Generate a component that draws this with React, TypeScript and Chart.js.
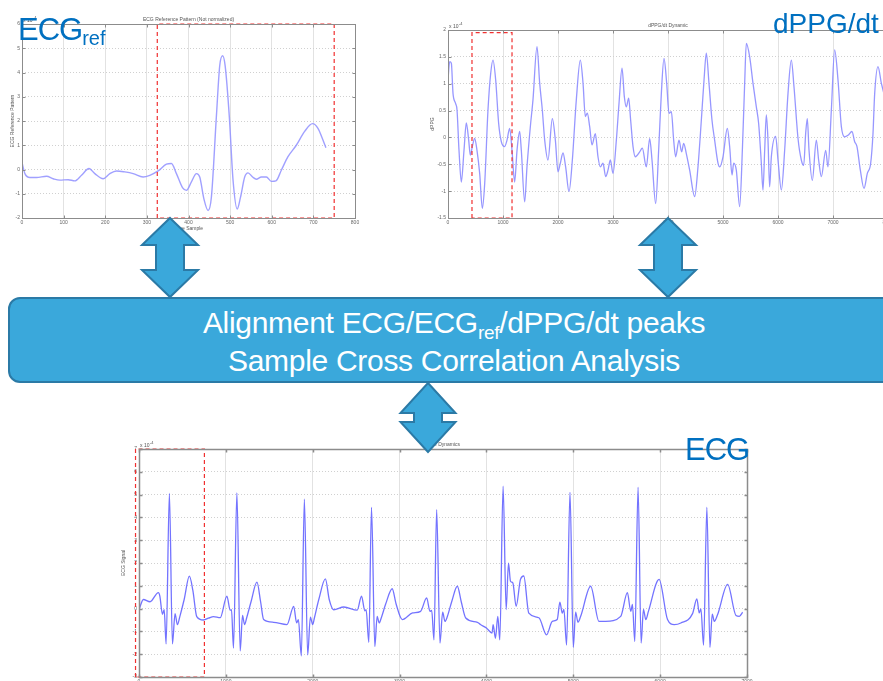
import React, { useEffect, useRef } from "react";
import { Chart, registerables } from "chart.js";
Chart.register(...registerables);

// ---------- DATA ----------
// ECG reference pattern (x: time sample, y: value x1e-4)
const ecgRefSamples: [number, number][] = [
  [0, 0.28], [7, -0.17], [19, -0.33], [35, -0.33], [59, -0.28], [75, -0.38], [91, -0.44], [111, -0.42],
  [127, -0.47], [143, -0.24], [161, 0.04], [175, -0.17], [195, -0.38], [211, -0.17], [227, -0.06],
  [247, -0.1], [267, -0.17], [291, -0.31], [307, -0.24], [327, -0.06], [347, 0.22], [359, 0.25],
  [371, -0.17], [386, -0.76], [395, -0.86], [407, -0.51], [419, -0.17], [427, -0.31], [437, -1.21],
  [447, -1.69], [455, -1.14], [467, 2.19], [475, 4.28], [482, 4.69], [488, 4.28], [498, 2.19],
  [507, -0.44], [517, -1.63], [525, -1.14], [535, -0.31], [543, -0.14], [554, -0.31], [563, -0.4],
  [575, -0.31], [587, -0.31], [599, -0.49], [610, -0.47], [623, -0.03], [639, 0.53], [659, 1.0],
  [679, 1.57], [698, 1.89], [711, 1.7], [723, 1.22], [730, 0.9],
];
const ecgRefWindowX = [325, 750];
const ecgRefWindowY = [-2, 6];
const ecgRefXTicks = { min: 0, max: 800, step: 100 };
const ecgRefYTicks = { min: -2, max: 6, step: 1 };

// dPPG/dt dynamic (x: time, y: value x1e-4)
const dppgSamples: [number, number][] = [
  [0, 1.07], [30, 1.41], [61, 1.38], [91, 0.82], [139, 0.63], [164, 0.51], [200, -0.24], [242, -0.83],
  [291, -0.24], [333, 0.27], [376, -0.05], [406, -0.33], [442, -0.17], [485, -0.02], [527, -0.24],
  [576, -0.67], [624, -1.32], [667, -0.86], [727, 0.51], [776, 1.19], [818, 1.44], [867, 1.07],
  [921, 0.26], [970, -0.08], [1030, -0.17], [1073, -0.05], [1121, 0.17], [1164, -0.24], [1212, -0.83],
  [1255, -0.24], [1303, 0.11], [1333, -0.24], [1394, -1.2], [1436, -0.55], [1497, 0.2], [1545, 0.7],
  [1618, 1.69], [1667, 1.01], [1715, 0.51], [1758, -0.05], [1818, -0.42], [1897, 0.35], [1952, -0.05],
  [2000, -0.64], [2042, -0.48], [2091, -0.29], [2139, -0.55], [2200, -1.01], [2261, -0.42], [2333, 0.7],
  [2406, 1.44], [2455, 1.01], [2497, 0.39], [2533, 0.45], [2576, 0.2], [2618, -0.14], [2679, 0.07],
  [2727, -0.36], [2770, -0.55], [2818, -0.48], [2867, -0.73], [2909, -0.61], [2952, -0.42], [3000, -0.67],
  [3061, -0.05], [3109, 0.63], [3164, 1.29], [3206, 0.76], [3242, 0.57], [3285, 0.73], [3321, 0.32],
  [3364, -0.17], [3406, -0.36], [3485, -0.27], [3533, -0.2], [3606, -0.55], [3667, -0.02], [3709, -0.42],
  [3776, -1.23], [3830, -0.24], [3879, 0.82], [3927, 1.47], [3976, 1.01], [4018, 0.45], [4061, 0.48],
  [4103, -0.05], [4139, -0.36], [4200, -0.05], [4248, -0.27], [4285, -0.11], [4333, -0.3], [4394, -0.61],
  [4485, -1.1], [4545, -0.55], [4606, 0.32], [4655, 1.07], [4697, 1.57], [4745, 1.01], [4800, 0.32],
  [4848, -0.05], [4909, -0.48], [4939, -0.55], [5000, -0.36], [5079, 0.17], [5121, -0.17], [5164, -0.7],
  [5194, -0.48], [5242, -0.61], [5303, -1.29], [5352, -0.24], [5394, 1.01], [5424, 1.75], [5485, 1.5],
  [5545, 1.01], [5606, 0.57], [5648, 0.26], [5697, -0.48], [5727, -0.98], [5758, -0.24], [5788, 0.42],
  [5818, -0.05], [5848, -0.92], [5879, -0.36], [5958, 0.02], [6000, -0.42], [6061, -0.98], [6121, -0.24],
  [6182, 0.82], [6242, 1.44], [6291, 0.94], [6364, -0.02], [6424, -0.42], [6467, -0.52], [6503, 0.07],
  [6533, 0.35], [6564, -0.24], [6624, -0.8], [6697, -0.05], [6739, -0.42], [6788, -0.73], [6867, -0.24],
  [6909, -0.55], [6970, 0.51], [7030, 1.63], [7091, 1.07], [7152, 0.2], [7212, 0.01], [7273, 0.04],
  [7345, 0.11], [7394, -0.08], [7436, -0.17], [7497, -0.61], [7564, -0.95], [7624, -0.67], [7685, -0.48],
  [7727, 0.07], [7758, 0.82], [7818, 1.32], [7879, 1.01], [7930, 0.8],
];
const dppgWindowX = [436, 1164];
const dppgWindowY = [-1.5, 1.95];
const dppgXTicks = { min: 0, max: 8000, step: 1000 };
const dppgYTicks = { min: -1.5, max: 2, step: 0.5 };

// ECG dynamics (x: time, y: value x1e-4)
const ecgSamples: [number, number][] = [
  [0, -0.05], [50, 0.4], [127, 0.3], [223, 0.7], [240, 0.55], [270, -0.25], [290, -0.05], [312, -1.55],
  [350, 5.05], [385, -1.55], [415, -0.22], [442, -0.7], [470, -0.35], [520, 0.4], [580, 1.42], [620, 0.8],
  [665, -0.35], [742, -0.5], [800, -0.42], [858, -0.35], [935, -0.4], [1012, 0.55], [1050, -0.07],
  [1065, -0.05], [1088, -1.73], [1127, 5.07], [1165, -1.85], [1192, -0.3], [1215, -0.7], [1240, -0.4],
  [1290, 0.3], [1358, 1.16], [1400, 0.3], [1435, -0.48], [1550, -0.6], [1704, -0.7], [1781, 0.1],
  [1815, -0.63], [1835, -0.48], [1869, -2.07], [1904, 4.8], [1942, -2.03], [1973, -0.37], [2000, -0.7],
  [2020, -0.4], [2070, 0.4], [2146, 1.3], [2190, 0.4], [2242, -0.05], [2358, 0.07], [2512, -0.07],
  [2562, 0.55], [2600, -0.1], [2615, -0.05], [2646, -1.48], [2677, 4.44], [2715, -1.66], [2742, -0.34],
  [2765, -0.63], [2790, -0.4], [2840, 0.2], [2915, 0.87], [2960, 0.2], [3031, -0.48], [3150, -0.19],
  [3242, -0.12], [3312, 0.47], [3350, -0.12], [3370, -0.08], [3396, -1.37], [3427, 4.34], [3465, -1.51],
  [3496, -0.16], [3523, -0.56], [3550, -0.35], [3600, 0.3], [3665, 0.98], [3710, 0.3], [3762, -0.41],
  [3896, -0.6], [3931, -0.7], [4000, -0.85], [4065, -1.07], [4077, -0.7], [4104, -1.3], [4131, -0.34],
  [4154, -1.37], [4192, 5.37], [4227, -0.04], [4254, 1.99], [4277, 1.2], [4304, 1.13], [4342, 0.1],
  [4392, 1.28], [4430, 1.43], [4488, -0.2], [4604, -0.4], [4692, -1.15], [4758, -0.56], [4815, -0.48],
  [4846, 0.28], [4873, -0.2], [4892, -0.04], [4923, -1.6], [4962, 5.1], [5000, -1.7], [5027, -0.16],
  [5054, -0.6], [5085, -0.34], [5200, 0.98], [5296, -0.56], [5373, -0.56], [5546, -0.34], [5623, 0.7],
  [5662, -0.12], [5681, 0.18], [5708, -1.44], [5746, 5.32], [5781, -1.51], [5808, -0.04], [5835, -0.48],
  [5865, -0.12], [5988, 1.28], [6085, -0.48], [6162, -0.7], [6238, -0.63], [6373, -0.22], [6423, 0.43],
  [6450, -0.19], [6469, -0.01], [6500, -1.6], [6538, 4.44], [6573, -1.7], [6600, -0.24], [6623, -0.56],
  [6662, -0.26], [6777, 1.06], [6873, -0.3], [6912, -0.34], [6950, -0.16],
];
const ecgWindowX = [-40, 753];
const ecgWindowY = [-3, 7];
const ecgXTicks = { min: 0, max: 7000, step: 1000 };
const ecgYTicks = { min: -3, max: 7, step: 1 };

// ---------- CHART HELPERS ----------
const framePlugin = {
  id: "matlabFrame",
  afterDraw(chart: any, _args: any, opts: any) {
    const { ctx, chartArea: a, scales } = chart;
    ctx.save();
    ctx.strokeStyle = "#8c8c8c";
    ctx.lineWidth = opts.frameWidth || 1;
    const l = Math.round(a.left) + 0.5, t = Math.round(a.top) + 0.5;
    const r = Math.round(a.right) + 0.5, b = Math.round(a.bottom) + 0.5;
    ctx.strokeRect(l, t, r - l, b - t);
    ctx.beginPath();
    const tl = 3;
    scales.x.ticks.forEach((tk: any) => {
      const px = Math.round(scales.x.getPixelForValue(tk.value)) + 0.5;
      ctx.moveTo(px, b); ctx.lineTo(px, b - tl);
      ctx.moveTo(px, t); ctx.lineTo(px, t + tl);
    });
    scales.y.ticks.forEach((tk: any) => {
      const py = Math.round(scales.y.getPixelForValue(tk.value)) + 0.5;
      ctx.moveTo(l, py); ctx.lineTo(l + tl, py);
      ctx.moveTo(r, py); ctx.lineTo(r - tl, py);
    });
    ctx.stroke();

    ctx.fillStyle = "#555";
    const cx = (a.left + a.right) / 2;
    ctx.font = "5px Arial, 'Liberation Sans', sans-serif";
    ctx.textAlign = "center";
    ctx.textBaseline = "alphabetic";
    if (opts.title) ctx.fillText(opts.title, opts.titleX ?? cx, a.top - 3);
    if (opts.xLabel) ctx.fillText(opts.xLabel, cx, a.bottom + 12);
    if (opts.yLabel) {
      ctx.save();
      ctx.translate(a.left - opts.yLabelOffset, (a.top + a.bottom) / 2);
      ctx.rotate(-Math.PI / 2);
      ctx.fillText(opts.yLabel, 0, 0);
      ctx.restore();
    }
    // exponent label
    ctx.textAlign = "left";
    ctx.font = "5px Arial, 'Liberation Sans', sans-serif";
    ctx.fillText("x 10", a.left + 1, a.top - 2);
    ctx.font = "4px Arial, 'Liberation Sans', sans-serif";
    ctx.fillText("-4", a.left + 11, a.top - 5);
    ctx.restore();
  },
};

function makeConfig(
  samples: [number, number][],
  winX: number[],
  winY: number[],
  xt: { min: number; max: number; step: number },
  yt: { min: number; max: number; step: number },
  lineColor: string,
  lineWidth: number,
  dims: { yW: number; xH: number; top: number; right: number },
  frameOpts: any
) {
  const box = [
    { x: winX[0], y: winY[0] },
    { x: winX[0], y: winY[1] },
    { x: winX[1], y: winY[1] },
    { x: winX[1], y: winY[0] },
    { x: winX[0], y: winY[0] },
  ];
  const tickFont = { family: "Arial, 'Liberation Sans', sans-serif", size: 5 };
  return {
    type: "scatter" as const,
    data: {
      datasets: [
        {
          data: box,
          showLine: true,
          borderColor: "#f03030",
          borderWidth: 1.2,
          borderDash: [4, 3],
          pointRadius: 0,
          tension: 0,
          clip: false,
        },
        {
          data: samples.map(([x, y]) => ({ x, y })),
          showLine: true,
          borderColor: lineColor,
          borderWidth: lineWidth,
          pointRadius: 0,
          cubicInterpolationMode: "monotone" as const,
        },
      ],
    },
    options: {
      animation: false as const,
      responsive: false,
      events: [],
      layout: { padding: { top: dims.top, right: dims.right, left: 0, bottom: 0 } },
      plugins: {
        legend: { display: false },
        tooltip: { enabled: false },
        title: { display: false },
        matlabFrame: frameOpts,
      },
      scales: {
        x: {
          type: "linear" as const,
          min: xt.min,
          max: xt.max,
          afterFit: (s: any) => { s.height = dims.xH; },
          ticks: {
            stepSize: xt.step,
            font: tickFont,
            color: "#666",
            padding: 2,
            maxRotation: 0,
            autoSkip: false,
            callback: (v: any) => String(v),
          },
          grid: { color: "#e2e2e2", drawTicks: false, lineWidth: 1 },
          border: { display: false },
        },
        y: {
          type: "linear" as const,
          min: yt.min,
          max: yt.max,
          afterFit: (s: any) => { s.width = dims.yW; },
          ticks: {
            stepSize: yt.step,
            font: tickFont,
            color: "#666",
            padding: 2,
            autoSkip: false,
            callback: (v: any) => String(v),
          },
          grid: { color: "#d0d0d0", drawTicks: false, lineWidth: 1 },
          border: { display: false, dash: [1, 2] },
        },
      },
    },
    plugins: [framePlugin],
  };
}

function ChartCanvas(props: { left: number; top: number; width: number; height: number; config: any }) {
  const ref = useRef<HTMLCanvasElement | null>(null);
  useEffect(() => {
    if (!ref.current) return;
    const chart = new Chart(ref.current, props.config);
    return () => chart.destroy();
  }, []);
  return (
    <canvas
      ref={ref}
      width={props.width}
      height={props.height}
      style={{ position: "absolute", left: props.left, top: props.top, width: props.width, height: props.height }}
    />
  );
}

function DoubleArrow(props: { cx: number; t: number; b: number; head: number; shaft: number; headLen: number }) {
  const { cx, t, b, head, shaft, headLen } = props;
  const hw = head / 2, sw = shaft / 2;
  const pts = [
    [cx, t], [cx + hw, t + headLen], [cx + sw, t + headLen], [cx + sw, b - headLen], [cx + hw, b - headLen],
    [cx, b], [cx - hw, b - headLen], [cx - sw, b - headLen], [cx - sw, t + headLen], [cx - hw, t + headLen],
  ].map((p) => p.join(",")).join(" ");
  return <polygon points={pts} fill="#3aa8db" stroke="#2b7aa6" strokeWidth={2} strokeLinejoin="miter" />;
}

const bigLabel: React.CSSProperties = {
  position: "absolute",
  color: "#0070c0",
  fontFamily: "Arial, 'Liberation Sans', sans-serif",
  whiteSpace: "nowrap",
};

export default function App() {
  const refCfg = makeConfig(ecgRefSamples, ecgRefWindowX, ecgRefWindowY, ecgRefXTicks, ecgRefYTicks,
    "rgba(150,150,255,0.9)", 1.4, { yW: 22, xH: 18, top: 24, right: 15 },
    { title: "ECG Reference Pattern (Not normalized)", xLabel: "Time Sample", yLabel: "ECG Reference Pattern", yLabelOffset: 8 });
  const dppgCfg = makeConfig(dppgSamples, dppgWindowX, dppgWindowY, dppgXTicks, dppgYTicks,
    "rgba(140,140,255,0.9)", 1.3, { yW: 28, xH: 18, top: 30, right: 12 },
    { title: "dPPG/dt Dynamic", xLabel: "Time", yLabel: "dPPG", yLabelOffset: 14 });
  const ecgCfg = makeConfig(ecgSamples, ecgWindowX, ecgWindowY, ecgXTicks, ecgYTicks,
    "rgba(90,90,255,0.85)", 1.3, { yW: 39, xH: 15, top: 19, right: 13 },
    { title: "ECG Dynamics", xLabel: "Time", yLabel: "ECG Signal", yLabelOffset: 14, frameWidth: 1.5 });

  return (
    <div style={{ position: "absolute", left: 0, top: 0, width: 883, height: 681, overflow: "hidden", background: "#fff" }}>
      <ChartCanvas left={0} top={0} width={370} height={236} config={refCfg} />
      <ChartCanvas left={420} top={0} width={480} height={236} config={dppgCfg} />
      <ChartCanvas left={100} top={430} width={660} height={262} config={ecgCfg} />

      <div style={{ ...bigLabel, left: 18, top: 14, fontSize: 31, lineHeight: "31px", letterSpacing: -1 }}>
        ECG<span style={{ fontSize: 20, position: "relative", top: 5, letterSpacing: 0 }}>ref</span>
      </div>
      <div style={{ ...bigLabel, left: 773, top: 10, fontSize: 28, lineHeight: "28px" }}>dPPG/dt</div>
      <div style={{ ...bigLabel, left: 685, top: 434, fontSize: 31, lineHeight: "31px", letterSpacing: -1 }}>ECG</div>

      <div style={{
        position: "absolute", left: 8, top: 297, width: 892, height: 86, boxSizing: "border-box",
        background: "#3aa8db", border: "2px solid #2b7aa6", borderRadius: 12,
      }} />
      <div style={{
        position: "absolute", left: 8, top: 306, width: 892, textAlign: "center", color: "#fff",
        fontFamily: "Arial, 'Liberation Sans', sans-serif", fontSize: 30, lineHeight: "34px", whiteSpace: "nowrap",
        letterSpacing: -0.3,
      }}>
        <div>Alignment ECG/ECG<span style={{ fontSize: 19, position: "relative", top: 6 }}>ref</span>/dPPG/dt peaks</div>
        <div>Sample Cross Correlation Analysis</div>
      </div>

      <svg width={883} height={681} style={{ position: "absolute", left: 0, top: 0, pointerEvents: "none" }}>
        <DoubleArrow cx={170} t={218} b={297} head={56} shaft={28} headLen={27} />
        <DoubleArrow cx={668} t={218} b={297} head={56} shaft={28} headLen={27} />
        <DoubleArrow cx={428} t={383} b={452} head={55} shaft={28} headLen={30} />
      </svg>
    </div>
  );
}
